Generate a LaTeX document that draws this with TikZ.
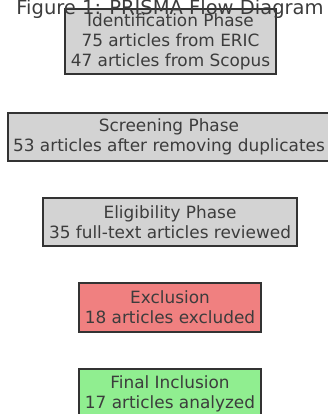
\documentclass[tikz,border=0pt]{standalone}
\usepackage{fontspec}
\setmainfont{DejaVu Sans}

\definecolor{boxgray}{HTML}{D3D3D3}
\definecolor{boxcoral}{HTML}{F08080}
\definecolor{boxgreen}{HTML}{90EE90}
\definecolor{edgegray}{HTML}{333333}
\definecolor{textgray}{HTML}{3C3C3C}

\begin{document}
\begin{tikzpicture}[
				x=1pt,
				y=-1pt,
				phase/.style={draw=edgegray, line width=1.3pt, text=textgray,
					align=center, inner sep=0pt,
					font=\fontsize{16.9}{20}\selectfont},
				title/.style={text=textgray, inner sep=0pt,
					font=\fontsize{19.5}{23}\selectfont}
			]

			% Page frame
			\useasboundingbox (0,0) rectangle (328,414);
			\clip (0,0) rectangle (328,414);

			% Phase boxes
			\node[phase, fill=boxgray, minimum width=211pt, minimum height=65pt]
			(ident) at (170.5,41.5) {Identification Phase\\75 articles from ERIC\\47 articles from Scopus};
			\node[phase, fill=boxgray, minimum width=322pt, minimum height=48pt]
			(screen) at (169,137) {Screening Phase\\53 articles after removing duplicates};
			\node[phase, fill=boxgray, minimum width=254pt, minimum height=48pt]
			(elig) at (170,222) {Eligibility Phase\\35 full-text articles reviewed};
			\node[phase, fill=boxcoral, minimum width=182pt, minimum height=49pt]
			(excl) at (170,307.5) {Exclusion\\18 articles excluded};
			\node[phase, fill=boxgreen, minimum width=182pt, minimum height=49pt]
			(incl) at (170,393.5) {Final Inclusion\\17 articles analyzed};

			% Title, written over the top of the first box
			\node[title, anchor=base] (heading) at (170,15) {Figure 1: PRISMA Flow Diagram};

		\end{tikzpicture}
\end{document}
